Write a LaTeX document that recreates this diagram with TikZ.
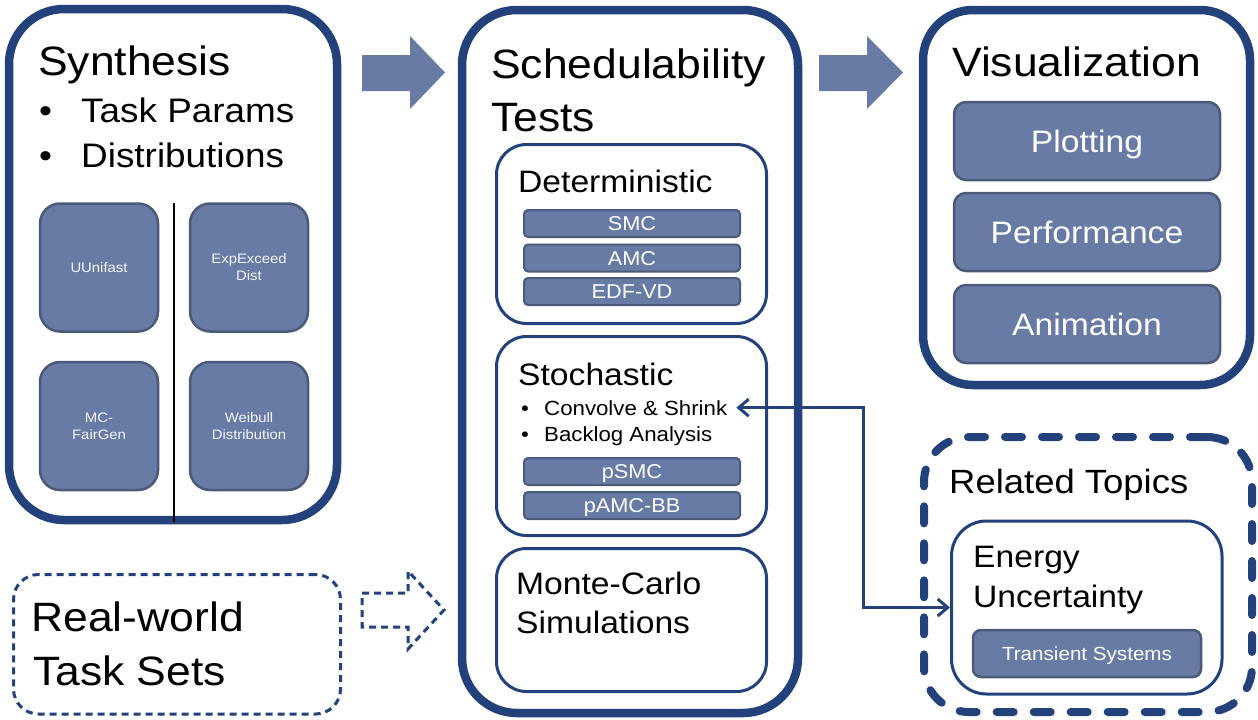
\documentclass[tikz,border=0pt]{standalone}
\usepackage{fontspec}
\setmainfont[FakeStretch=1.085]{Liberation Sans}
\usetikzlibrary{arrows.meta}
\definecolor{dblue}{RGB}{35,65,122}
\definecolor{bfill}{RGB}{103,123,164}
\definecolor{bline}{RGB}{75,90,120}
\begin{document}
\begin{tikzpicture}[x=1pt,y=-1pt,
  bigbox/.style={draw=dblue, line width=8.5pt, rounded corners=55pt, fill=white, inner sep=0pt},
  inbox/.style={draw=dblue, line width=3pt, rounded corners=30pt, inner sep=0pt},
  bar/.style={draw=bline, fill=bfill, line width=2pt, rounded corners=4pt, text=white, inner sep=0pt,
     text height=14.3pt, text depth=0pt, font=\fontsize{20}{24}\selectfont},
  vbar/.style={draw=bline, fill=bfill, line width=2.5pt, rounded corners=12pt, text=white, inner sep=0pt,
     text height=22.2pt, text depth=0pt, font=\fontsize{31}{37}\selectfont,
     minimum width=266pt, minimum height=78pt},
  tile/.style={draw=bline, fill=bfill, line width=2.5pt, rounded corners=20pt, text=white!93!bfill, align=center,
     inner sep=0pt, minimum width=118pt, minimum height=128pt, font=\fontsize{13.7}{17}\selectfont},
  txt/.style={inner sep=0pt, anchor=base west},
  ttl/.style={txt, font=\fontsize{41}{49}\selectfont},
  sub/.style={txt, font=\fontsize{31}{37}\selectfont},
  blockarrow/.style={fill=bfill},
  dasharrow/.style={draw=dblue, line width=3pt, dash pattern=on 7pt off 5pt, line join=miter},
  conn/.style={draw=dblue, line width=3pt, {Straight Barb[length=10pt,width=17pt]}-{Straight Barb[length=10pt,width=17pt]}},
]
\useasboundingbox (0,0) rectangle (1258,720);
\fill[white] (0,0) rectangle (1258,720);

% ---------- Synthesis ----------
\node[bigbox, minimum width=328pt, minimum height=511pt] (synth) at (173,264.5) {};
\node[ttl] (tsynth) at (38,75.5) {Synthesis};
\node[txt, font=\fontsize{34}{40}\selectfont] (b1) at (39,122) {•};
\node[txt, font=\fontsize{34}{40}\selectfont] (tp) at (81,122) {Task Params};
\node[txt, font=\fontsize{34}{40}\selectfont] (b2) at (39,167) {•};
\node[txt, font=\fontsize{34}{40}\selectfont] (dist) at (81,167) {Distributions};
\node[tile] (uu) at (99,267.5) {UUnifast};
\node[tile] (exp) at (249,267.5) {ExpExceed\\Dist};
\node[tile] (mc) at (99,426) {MC-\\FairGen};
\node[tile] (wb) at (249,426) {Weibull\\Distribution};
\coordinate (sepT) at (174,203);
\coordinate (sepB) at (174,522);
\draw[black, line width=1.6pt] (sepT) -- (sepB);

% ---------- Real-world ----------
\node[draw=dblue, line width=3pt, dash pattern=on 7pt off 5pt, rounded corners=25pt,
      minimum width=327pt, minimum height=139.5pt, inner sep=0pt] (real) at (177,644.25) {};
\node[ttl] (treal1) at (31,631) {Real-world};
\node[ttl] (treal2) at (33,685) {Task Sets};

% ---------- block arrows ----------
\fill[blockarrow] (362,55) -- (410,55) -- (410,36) -- (445,72.5) -- (410,109) -- (410,91) -- (362,91) -- cycle;
\fill[blockarrow] (819,55) -- (867,55) -- (867,36) -- (903,72.5) -- (867,109) -- (867,91) -- (819,91) -- cycle;
\draw[dasharrow] (362,593) -- (408,593) -- (408,571) -- (444,610) -- (408,649) -- (408,627) -- (362,627) -- cycle;

% ---------- Schedulability ----------
\node[bigbox, minimum width=336pt, minimum height=703pt] (sched) at (630,361.5) {};
\node[ttl] (tsched1) at (491,78) {Schedulability};
\node[ttl] (tsched2) at (491,131) {Tests};

\node[inbox, minimum width=270pt, minimum height=179pt] (det) at (631.5,234) {};
\node[sub] (tdet) at (518,192) {Deterministic};
\node[bar, minimum width=216pt, minimum height=27pt] (smc) at (632,223.5) {SMC};
\node[bar, minimum width=216pt, minimum height=27pt] (amc) at (632,258) {AMC};
\node[bar, minimum width=216pt, minimum height=27pt] (edf) at (632,291.5) {EDF-VD};

\node[inbox, minimum width=270pt, minimum height=199pt] (sto) at (631.5,436) {};
\node[sub] (tsto) at (518,385) {Stochastic};
\node[txt, font=\fontsize{20.5}{24}\selectfont] (b3) at (521,415) {•};
\node[txt, font=\fontsize{20.5}{24}\selectfont] (conv) at (544,415) {Convolve \& Shrink};
\node[txt, font=\fontsize{20.5}{24}\selectfont] (b4) at (521,441) {•};
\node[txt, font=\fontsize{20.5}{24}\selectfont] (back) at (544,441) {Backlog Analysis};
\node[bar, minimum width=216pt, minimum height=27pt] (psmc) at (632,471.5) {pSMC};
\node[bar, minimum width=216pt, minimum height=27pt] (pamc) at (632,505.5) {pAMC-BB};

\node[inbox, minimum width=270pt, minimum height=143pt] (mcs) at (631.5,620) {};
\node[sub] (tmc1) at (516,594) {Monte-Carlo};
\node[sub] (tmc2) at (516,633) {Simulations};

% ---------- Visualization ----------
\node[bigbox, rounded corners=50pt, minimum width=327pt, minimum height=375pt] (vis) at (1086.5,197.5) {};
\node[ttl] (tvis) at (952,76) {Visualization};
\node[vbar] (plot) at (1087,141) {Plotting};
\node[vbar] (perf) at (1087,232) {Performance};
\node[vbar] (anim) at (1087,324) {Animation};

% ---------- Related Topics ----------
\node[draw=dblue, line width=8pt, line cap=round, dash pattern=on 17pt off 20pt, rounded corners=45pt,
      minimum width=328pt, minimum height=275pt, inner sep=0pt] (rel) at (1088,574.5) {};
\node[txt, font=\fontsize{33.6}{40}\selectfont] (trel) at (949,493) {Related Topics};
\node[inbox, rounded corners=35pt, minimum width=270.5pt, minimum height=173pt] (energy) at (1086.75,607.5) {};
\node[sub] (ten1) at (973,567) {Energy};
\node[sub] (ten2) at (973,607) {Uncertainty};
\node[bar, rounded corners=8pt, line width=2.5pt, text height=13.6pt, font=\fontsize{19}{23}\selectfont,
      minimum width=228pt, minimum height=47pt] (trans) at (1087,653.5) {Transient Systems};

% ---------- connector ----------
\coordinate (bend) at (863,0);
\draw[conn] ([xshift=9pt]conv.east) -- (conv.east -| bend) |- (energy.west);
\end{tikzpicture}
\end{document}
